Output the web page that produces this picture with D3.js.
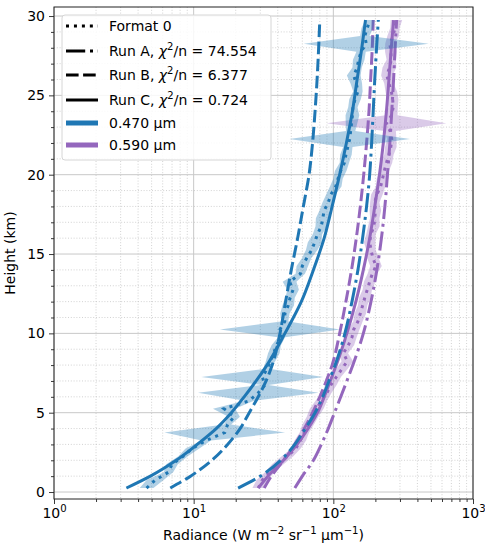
<!DOCTYPE html>
<html>
<head>
<meta charset="utf-8">
<script src="https://cdn.jsdelivr.net/npm/d3@7"></script>
<style>
  body { margin: 0; background: #fff; }
  svg { font-family: "DejaVu Sans", sans-serif; }
</style>
</head>
<body>
<svg id="chart" width="485" height="547"></svg>
<script>
// ============
// DATA
// ============

// observation heights (km)
const heights = [0.25, 0.75, 1.25, 1.75, 2.25, 2.75, 3.25, 3.75, 4.25, 4.75,
  5.25, 5.75, 6.25, 6.75, 7.25, 7.75, 8.25, 8.75, 9.25, 9.75,
  10.25, 10.75, 11.25, 11.75, 12.25, 12.75, 13.25, 13.75, 14.25, 14.75,
  15.25, 15.75, 16.25, 16.75, 17.25, 17.75, 18.25, 18.75, 19.25, 19.75,
  20.25, 20.75, 21.25, 21.75, 22.25, 22.75, 23.25, 23.75, 24.25, 24.75,
  25.25, 25.75, 26.25, 26.75, 27.25, 27.75, 28.25, 28.75, 29.25, 29.75];

// Format 0 radiance, 0.470 um
const blueObs = [4.6, 5.3, 6.6, 7.0, 8.4, 9.8, 12.3, 16.7, 17.5, 19.5,
  16.5, 25, 29, 32.4, 31, 33.5, 35.5, 37.5, 39, 42.6,
  41.5, 44.9, 45, 47.5, 49, 51.5, 48.6, 58, 60, 64.5,
  70, 73.6, 77, 82, 84, 86, 92, 96, 104, 108,
  113, 120, 123, 127, 131, 133, 135, 137, 138, 143,
  150, 146, 140, 148, 152, 158, 172, 168, 175, 183];
// multiplicative uncertainty factor
const blueSpread = [1.12, 1.15, 1.08, 1.1, 1.08, 1.12, 1.08, 2.7, 1.06, 1.1,
  1.2, 1.08, 2.7, 1.06, 2.73, 1.06, 1.08, 1.1, 1.08, 1.06,
  2.69, 1.06, 1.08, 1.1, 1.08, 1.1, 1.12, 1.08, 1.1, 1.08,
  1.1, 1.12, 1.08, 1.1, 1.12, 1.08, 1.1, 1.08, 1.1, 1.08,
  1.1, 1.08, 1.1, 1.08, 2.7, 1.08, 1.1, 1.12, 1.08, 1.1,
  1.08, 1.1, 1.12, 1.08, 1.1, 1.08, 2.8, 1.08, 1.1, 1.08];

// Format 0 radiance, 0.590 um
const purpleObs = [29, 31, 35, 40, 47, 54, 58, 62, 66, 71,
  76, 82, 90, 96, 105, 115, 126, 118, 128, 136,
  140, 150, 156, 162, 168, 175, 182, 190, 202, 192,
  186, 182, 186, 195, 198, 200, 198, 205, 218, 225,
  232, 240, 250, 258, 262, 255, 240, 262, 268, 266,
  260, 250, 242, 252, 260, 258, 254, 268, 276, 283];
const purpleSpread = [1.1, 1.1, 1.08, 1.1, 1.1, 1.08, 1.1, 1.08, 1.1, 1.1,
  1.12, 1.1, 1.08, 1.1, 1.08, 1.1, 1.1, 1.08, 1.1, 1.08,
  1.1, 1.08, 1.1, 1.08, 1.1, 1.08, 1.1, 1.08, 1.1, 1.1,
  1.08, 1.1, 1.08, 1.1, 1.08, 1.1, 1.08, 1.1, 1.08, 1.1,
  1.08, 1.1, 1.08, 1.1, 1.08, 1.1, 2.68, 1.1, 1.08, 1.1,
  1.1, 1.08, 1.1, 1.12, 1.08, 1.1, 1.08, 1.1, 1.08, 1.1];

// model runs
const modelHeights = [0.25, 1, 2, 3, 4, 5, 6, 7, 8, 10, 12, 14, 16, 18, 20, 22, 24, 26, 28, 29.75];
const blueRunA = [20.8, 30, 42, 53, 63, 74, 84, 93, 103, 121, 136, 150, 162, 173, 182, 188, 193, 198, 204, 210];
const blueRunB = [6.8, 9.5, 13.5, 17.5, 21.5, 25, 29, 33, 36.5, 41.5, 45.5, 50, 55.5, 61, 67, 71, 74, 76.5, 78.5, 80];
const blueRunC = [3.3, 4.9, 7.5, 10.6, 14.5, 18.6, 23, 28, 33.5, 45, 59, 72, 86, 98, 111, 124, 137, 148, 160, 170];
const purpleRunA = [53, 60, 72, 82, 92, 102, 113, 125, 138, 164, 186, 205, 221, 234, 244, 254, 262, 270, 277, 284];
const purpleRunB = [32, 36, 44, 53, 62, 71, 80, 89, 98, 111, 123, 135, 146, 156, 165, 173, 180, 185, 190, 193];
const purpleRunC = [29, 34, 44, 55, 66, 77, 86, 95, 105, 125, 145, 164, 182, 198, 214, 228, 240, 250, 260, 270];

const xTicks = [1, 10, 100, 1000];
const yTicks = [0, 5, 10, 15, 20, 25, 30];

// ============
// SETUP
// ============

const mLeft = 54, mRight = 473, mTop = 7, mBottom = 499;
const lw = 3;
const dashStyles = {
  dotted: [1 * lw, 1.65 * lw],
  dashdot: [6.4 * lw, 1.6 * lw, 1 * lw, 1.6 * lw],
  dashed: [4.2 * lw, 1.5 * lw],
  solid: null
};

const svg = d3.select("#chart");

const x = d3.scaleLog().domain([1, 1000]).range([mLeft, mRight]);
const y = d3.scaleLinear().domain([-0.44, 30.57]).range([mBottom, mTop]);

svg.append("defs").append("clipPath").attr("id", "plotclip")
  .append("rect").attr("x", mLeft).attr("y", mTop)
  .attr("width", mRight - mLeft).attr("height", mBottom - mTop);

// ============
// GRIDLINES
// ============

const xMinor = [];
for (let d = 1; d < 1000; d *= 10) {
  for (let k = 2; k <= 9; k++) xMinor.push(d * k);
}
const yMinor = d3.range(0, 31, 1).filter(v => v % 5 !== 0);

const grid = svg.append("g");
grid.selectAll(".xminor").data(xMinor).enter().append("line")
  .attr("x1", d => x(d)).attr("x2", d => x(d))
  .attr("y1", mTop).attr("y2", mBottom)
  .attr("stroke", "#c6c6c6").attr("stroke-width", 0.8)
  .attr("stroke-dasharray", "1,1.8");
grid.selectAll(".yminor").data(yMinor).enter().append("line")
  .attr("x1", mLeft).attr("x2", mRight)
  .attr("y1", d => y(d)).attr("y2", d => y(d))
  .attr("stroke", "#c6c6c6").attr("stroke-width", 0.8)
  .attr("stroke-dasharray", "1,1.8");
grid.selectAll(".xmajor").data(xTicks).enter().append("line")
  .attr("x1", d => x(d)).attr("x2", d => x(d))
  .attr("y1", mTop).attr("y2", mBottom)
  .attr("stroke", "#c8c8c8").attr("stroke-width", 1);
grid.selectAll(".ymajor").data(yTicks).enter().append("line")
  .attr("x1", mLeft).attr("x2", mRight)
  .attr("y1", d => y(d)).attr("y2", d => y(d))
  .attr("stroke", "#c8c8c8").attr("stroke-width", 1);

// ============
// DATA
// ============

const plot = svg.append("g").attr("clip-path", "url(#plotclip)");

function drawSet(color, obs, spread, runA, runB, runC) {
  const pts = heights.map((h, i) => ({ h: h, v: obs[i], f: spread[i] }));

  const band = d3.area()
    .y(d => y(d.h))
    .x0(d => x(d.v / d.f))
    .x1(d => x(d.v * d.f));

  plot.append("path").datum(pts)
    .attr("d", band)
    .attr("fill", color).attr("fill-opacity", 0.35);

  const obsLine = d3.line().x(d => x(d.v)).y(d => y(d.h));
  plot.append("path").datum(pts)
    .attr("d", obsLine)
    .attr("fill", "none").attr("stroke", color)
    .attr("stroke-width", lw)
    .attr("stroke-dasharray", dashStyles.dotted.join(","));

  const model = d3.line()
    .x(d => x(d.v)).y(d => y(d.h))
    .curve(d3.curveMonotoneY);

  [[runA, "dashdot"], [runB, "dashed"], [runC, "solid"]].forEach(function(r) {
    const data = modelHeights.map((h, i) => ({ h: h, v: r[0][i] }));
    plot.append("path").datum(data)
      .attr("d", model)
      .attr("fill", "none").attr("stroke", color)
      .attr("stroke-width", lw)
      .attr("stroke-dasharray", dashStyles[r[1]] ? dashStyles[r[1]].join(",") : null);
  });
}

drawSet("#9467bd", purpleObs, purpleSpread, purpleRunA, purpleRunB, purpleRunC);
drawSet("#1f77b4", blueObs, blueSpread, blueRunA, blueRunB, blueRunC);

// ============
// AXES
// ============

// writes text with superscripts: parts = [[string, isSup, isItalic], ...]
function richText(sel, parts, size) {
  sel.text(null);
  let shifted = false;
  const shift = size * 0.42;
  parts.forEach(function(p) {
    const t = sel.append("tspan").text(p[0]);
    if (p[1] && !shifted) { t.attr("dy", -shift).attr("font-size", size * 0.72); shifted = true; }
    else if (p[1]) { t.attr("font-size", size * 0.72); }
    else if (shifted) { t.attr("dy", shift); shifted = false; }
    if (p[2]) t.attr("font-style", "italic");
  });
}

const xAxis = svg.append("g")
  .attr("transform", "translate(0," + mBottom + ")")
  .call(d3.axisBottom(x).tickValues(xTicks).tickSize(5).tickPadding(4));
xAxis.selectAll(".tick text")
  .attr("font-size", 14).attr("font-family", "DejaVu Sans").attr("fill", "#000")
  .each(function(d) {
    richText(d3.select(this), [["10"], [String(Math.round(Math.log10(d))), true]], 14);
  });

svg.append("g")
  .attr("transform", "translate(0," + mBottom + ")")
  .call(d3.axisBottom(x).tickValues(xMinor).tickSize(3).tickFormat(""));

const yAxis = svg.append("g")
  .attr("transform", "translate(" + mLeft + ",0)")
  .call(d3.axisLeft(y).tickValues(yTicks).tickSize(5).tickPadding(4));
yAxis.selectAll(".tick text")
  .attr("font-size", 14).attr("font-family", "DejaVu Sans").attr("fill", "#000");

svg.append("g")
  .attr("transform", "translate(" + mLeft + ",0)")
  .call(d3.axisLeft(y).tickValues(yMinor).tickSize(3).tickFormat(""));

svg.selectAll(".domain").remove();
svg.selectAll(".tick line").attr("stroke", "#222").attr("stroke-width", 0.9);

// frame
svg.append("rect")
  .attr("x", mLeft).attr("y", mTop)
  .attr("width", mRight - mLeft).attr("height", mBottom - mTop)
  .attr("fill", "none").attr("stroke", "#222").attr("stroke-width", 1);

// axis labels
const xl = svg.append("text")
  .attr("x", (mLeft + mRight) / 2).attr("y", 540)
  .attr("text-anchor", "middle").attr("font-size", 14);
richText(xl, [["Radiance (W m"], ["\u22122", true], [" sr"], ["\u22121", true], [" \u03bcm"], ["\u22121", true], [")"]], 14);

svg.append("text")
  .attr("transform", "translate(15," + ((mTop + mBottom) / 2) + ")rotate(-90)")
  .attr("text-anchor", "middle").attr("font-size", 14)
  .text("Height (km)");

// ============
// LEGEND
// ============

const legend = svg.append("g");
legend.append("rect")
  .attr("x", 62).attr("y", 15).attr("width", 209).attr("height", 145)
  .attr("rx", 3).attr("fill", "#fff").attr("fill-opacity", 0.85)
  .attr("stroke", "#d6d6d6").attr("stroke-width", 1);

const entries = [
  { label: [["Format 0"]], style: "dotted", color: "#000", w: lw, y: 26 },
  { label: [["Run A, "], ["\u03c7", false, true], ["2", true], ["/n = 74.554"]], style: "dashdot", color: "#000", w: lw, y: 51 },
  { label: [["Run B, "], ["\u03c7", false, true], ["2", true], ["/n = 6.377"]], style: "dashed", color: "#000", w: lw, y: 75 },
  { label: [["Run C, "], ["\u03c7", false, true], ["2", true], ["/n = 0.724"]], style: "solid", color: "#000", w: lw, y: 100 },
  { label: [["0.470 \u03bcm"]], style: "solid", color: "#1f77b4", w: 5, y: 123 },
  { label: [["0.590 \u03bcm"]], style: "solid", color: "#9467bd", w: 5, y: 145 }
];

entries.forEach(function(e) {
  legend.append("line")
    .attr("x1", 66).attr("x2", 98)
    .attr("y1", e.y).attr("y2", e.y)
    .attr("stroke", e.color).attr("stroke-width", e.w)
    .attr("stroke-dasharray", dashStyles[e.style] ? dashStyles[e.style].join(",") : null);
  const t = legend.append("text")
    .attr("x", 109).attr("y", e.y + 5)
    .attr("font-size", 14);
  richText(t, e.label, 14);
});
</script>
</body>
</html>
